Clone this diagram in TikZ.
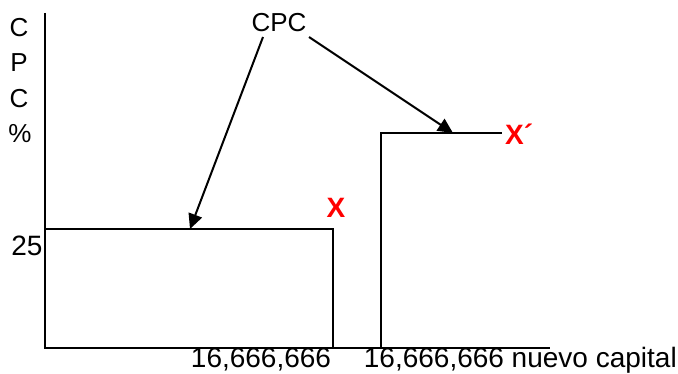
\documentclass[tikz,border=0pt]{standalone}
\usepackage{fontspec}
\setmainfont{Liberation Sans}
\usetikzlibrary{arrows.meta}
\begin{document}
\begin{tikzpicture}[x=1pt,y=-1pt,
  ln/.style={line width=2pt, black},
  arr/.style={line width=2pt, -{Triangle[length=15pt,width=14pt]}},
  lbl/.style={inner sep=0pt, font=\fontsize{28}{30}\selectfont},
  ylbl/.style={inner sep=0pt, font=\fontsize{26}{28}\selectfont},
  redx/.style={inner sep=0pt, text=red, font=\fontsize{28}{30}\selectfont\bfseries}]
\useasboundingbox (0,0) rectangle (678,374);
% axes
\coordinate (ytop) at (45,13);
\coordinate (orig) at (45,348);
\coordinate (xend) at (550,348);
\draw[ln] (ytop) -- (orig) -- (xend);
% first rectangle
\coordinate (r1tl) at (45,229);
\coordinate (r1tr) at (333,229);
\coordinate (r1br) at (333,348);
\draw[ln] (r1tl) -- (r1tr) -- (r1br);
% second step
\coordinate (r2b) at (381,348);
\coordinate (r2tl) at (381,133);
\coordinate (r2tr) at (502,133);
\draw[ln] (r2b) -- (r2tl) -- (r2tr);
% y label
\node[ylbl] (lc1) at (19,28) {C};
\node[ylbl] (lp) at (19,63) {P};
\node[ylbl] (lc2) at (19,99) {C};
\node[ylbl] (lpc) at (20,134) {\%};
\node[lbl] (l25) at (27,246) {25};
% x labels
\node[lbl] (x1) at (261,360) {16,666,666};
\node[lbl, anchor=east] (x2) at (677,360) {16,666,666 nuevo capital};
% red marks
\node[redx] (xa) at (336,208) {X};
\node[redx, anchor=west] (xb) at (505,134) {X´};
% CPC
\node[ylbl] (cpc) at (279,23) {CPC};
\coordinate (a1s) at (263,37);
\coordinate (a1e) at (190,229);
\coordinate (a2s) at (309,37);
\coordinate (a2e) at (453,133);
\draw[arr] (a1s) -- (a1e);
\draw[arr] (a2s) -- (a2e);
\end{tikzpicture}
\end{document}
